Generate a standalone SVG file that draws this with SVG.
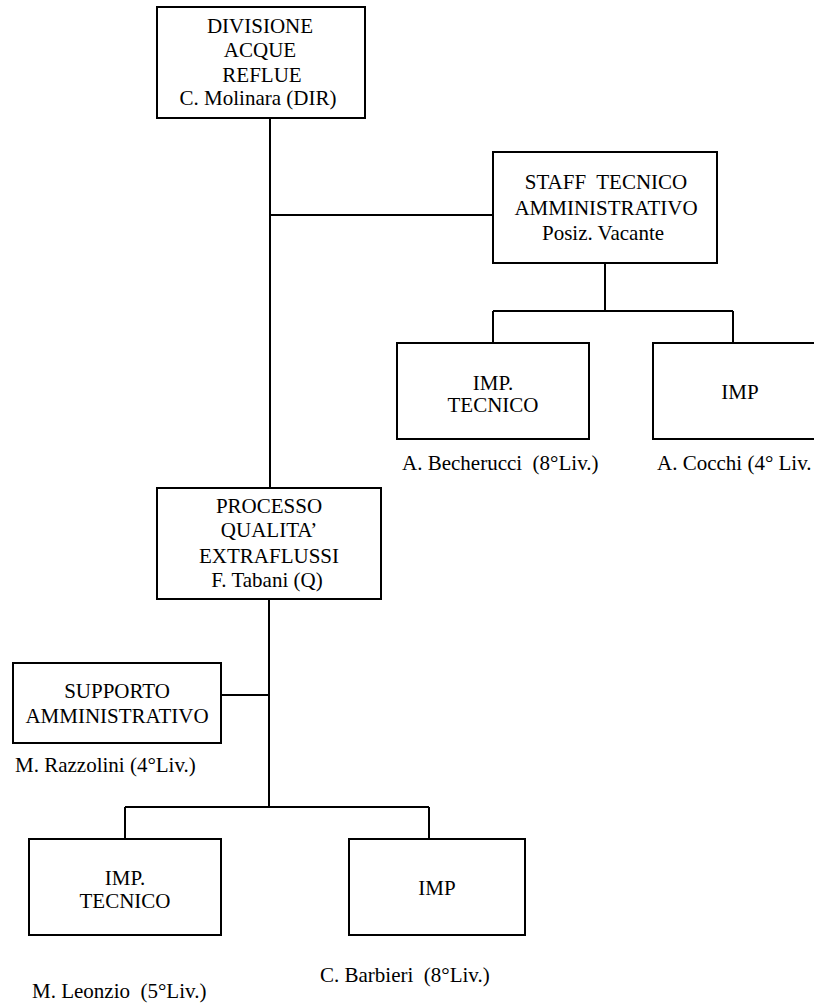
<svg xmlns="http://www.w3.org/2000/svg" width="814" height="1003" viewBox="0 0 814 1003">
<style>
rect{fill:#fff;stroke:#000;stroke-width:2}
.c line{stroke:#000;stroke-width:2}
text{font-family:"Liberation Serif","Times New Roman",serif;font-size:21px;fill:#000}
.m{text-anchor:middle}
</style>
<rect x="0" y="0" width="814" height="1003" style="stroke:none"/>
<g class="c" id="connectors">
<line x1="270" y1="118" x2="270" y2="488"/>
<line x1="270" y1="215" x2="493" y2="215"/>
<line x1="605" y1="263" x2="605" y2="311"/>
<line x1="493" y1="311" x2="733" y2="311"/>
<line x1="493" y1="311" x2="493" y2="343"/>
<line x1="733" y1="311" x2="733" y2="343"/>
<line x1="269" y1="599" x2="269" y2="807"/>
<line x1="221" y1="695" x2="269" y2="695"/>
<line x1="125" y1="807" x2="429" y2="807"/>
<line x1="125" y1="807" x2="125" y2="839"/>
<line x1="429" y1="807" x2="429" y2="839"/>
</g>
<g id="divisione">
<rect x="157" y="7" width="208" height="111"/>
<text class="m" x="260" y="33">DIVISIONE</text>
<text class="m" x="260" y="57">ACQUE</text>
<text class="m" x="262" y="82">REFLUE</text>
<text class="m" x="258" y="105">C. Molinara (DIR)</text>
</g>
<g id="staff">
<rect x="493" y="152" width="224" height="111"/>
<text class="m" x="606" y="189" xml:space="preserve">STAFF  TECNICO</text>
<text class="m" x="606" y="215">AMMINISTRATIVO</text>
<text class="m" x="603" y="240">Posiz. Vacante</text>
</g>
<g id="imp-tecnico-staff">
<rect x="397" y="343" width="192" height="96"/>
<text class="m" x="493" y="390">IMP.</text>
<text class="m" x="493" y="412">TECNICO</text>
<text x="402" y="470" xml:space="preserve">A. Becherucci  (8°Liv.)</text>
</g>
<g id="imp-staff">
<rect x="653" y="343" width="176" height="96"/>
<text class="m" x="740" y="399">IMP</text>
<text x="657" y="470">A. Cocchi (4° Liv.</text>
</g>
<g id="processo">
<rect x="157" y="488" width="224" height="111"/>
<text class="m" x="269" y="513">PROCESSO</text>
<text class="m" x="269" y="537">QUALITA’</text>
<text class="m" x="269" y="563">EXTRAFLUSSI</text>
<text class="m" x="267" y="587">F. Tabani (Q)</text>
</g>
<g id="supporto">
<rect x="13" y="663" width="208" height="80"/>
<text class="m" x="117" y="698">SUPPORTO</text>
<text class="m" x="117" y="723">AMMINISTRATIVO</text>
<text x="15" y="772">M. Razzolini (4°Liv.)</text>
</g>
<g id="imp-tecnico">
<rect x="29" y="839" width="192" height="96"/>
<text class="m" x="125" y="885">IMP.</text>
<text class="m" x="125" y="908">TECNICO</text>
<text x="32" y="998" xml:space="preserve">M. Leonzio  (5°Liv.)</text>
</g>
<g id="imp">
<rect x="349" y="839" width="176" height="96"/>
<text class="m" x="437" y="895">IMP</text>
<text x="320" y="982" xml:space="preserve">C. Barbieri  (8°Liv.)</text>
</g>
</svg>
